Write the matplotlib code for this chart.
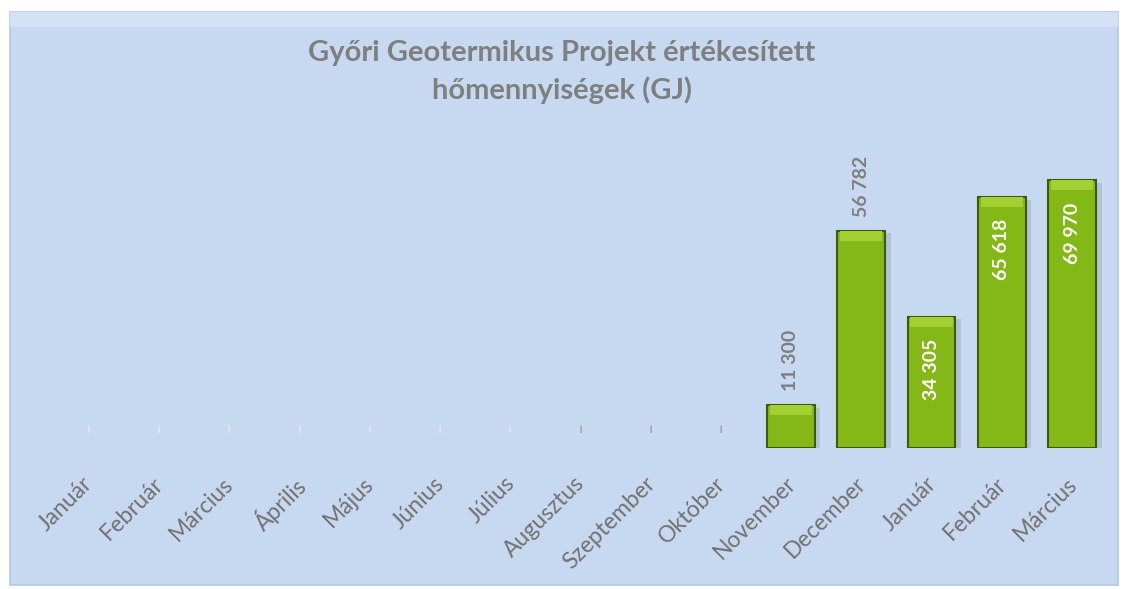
import matplotlib.pyplot as plt
import matplotlib.patheffects as pe
import matplotlib.transforms as mtrans
from matplotlib.patches import Rectangle

months = ['Január', 'Február', 'Március', 'Április', 'Május', 'Június', 'Július',
          'Augusztus', 'Szeptember', 'Október', 'November', 'December',
          'Január', 'Február', 'Március']
values = [0, 0, 0, 0, 0, 0, 0, 0, 0, 0, 11300, 56782, 34305, 65618, 69970]
# which labels sit inside the bar (white) and which above it (grey)
inside = [False] * 12 + [True, True, True]

plt.rcParams['font.family'] = ['Lato', 'DejaVu Sans']
grey = '#7F7F7F'

fig = plt.figure(figsize=(11.23, 5.89), dpi=100)
fig.patch.set_facecolor('white')

# chart area
fig.patches.append(Rectangle((10 / 1123, 4 / 589), 1108 / 1123, 573 / 589,
                             transform=fig.transFigure, facecolor='#C6D9F1',
                             edgecolor='#B4C7E7', linewidth=1.2, zorder=-10))
fig.patches.append(Rectangle((10 / 1123, 562 / 589), 1108 / 1123, 15 / 589,
                             transform=fig.transFigure, facecolor='#D3E2F4',
                             edgecolor='none', zorder=-9))

ax = fig.add_axes([0.047, 0.2394, 0.939, 0.52])
ax.set_facecolor('none')
x = list(range(len(months)))
nz = [i for i in x if values[i] > 0]
nzv = [values[i] for i in nz]
bars = ax.bar(nz, nzv, width=0.68, color='#84B817', edgecolor='#3E5A08',
              linewidth=1.5, zorder=3)
for b in bars:
    b.set_path_effects([pe.SimplePatchShadow(offset=(4, -2), shadow_rgbFace='#7E8CA0', alpha=0.3),
                        pe.Normal()])
# lighter bevel on top of each bar
cap = 2600
ax.bar(nz, [cap] * len(nz), bottom=[v - cap for v in nzv], width=0.6,
       color='#A3D134', edgecolor='none', zorder=4)

ax.set_xlim(-0.5, len(months) - 0.5)
ax.set_ylim(0, 80000)
for s in ax.spines.values():
    s.set_visible(False)
ax.set_yticks([])
ax.set_xticks(x)
ax.set_xticklabels(months, rotation=45, ha='right', rotation_mode='anchor',
                   fontsize=16.5, color='#767171')
ax.tick_params(axis='x', length=0, pad=18)
shift = mtrans.ScaledTranslation(-6 / 100, 0, fig.dpi_scale_trans)
for lab in ax.get_xticklabels():
    lab.set_transform(lab.get_transform() + shift)

for i, v in enumerate(values):
    if v == 0:
        col = 'white' if i < 7 else '#595959'
        ax.annotate('|', (i, 0), xytext=(0, 11), textcoords='offset points',
                    ha='center', va='bottom', fontsize=6, color=col)
        continue
    txt = f'{v:,}'.replace(',', ' ')
    if inside[i]:
        ax.annotate(txt, (i, v), xytext=(0, -16), textcoords='offset points',
                    ha='center', va='top', rotation=90, fontsize=14,
                    fontweight='bold', color='white', zorder=5)
    else:
        ax.annotate(txt, (i, v), xytext=(0, 10), textcoords='offset points',
                    ha='center', va='bottom', rotation=90, fontsize=14,
                    fontweight='bold', color=grey, zorder=5)

fig.text(0.5, 0.878, 'Győri Geotermikus Projekt értékesített\nhőmennyiségek (GJ)',
         ha='center', va='center', fontsize=21, fontweight='bold', color=grey,
         linespacing=1.45)

fig.savefig('out.png', dpi=100)
